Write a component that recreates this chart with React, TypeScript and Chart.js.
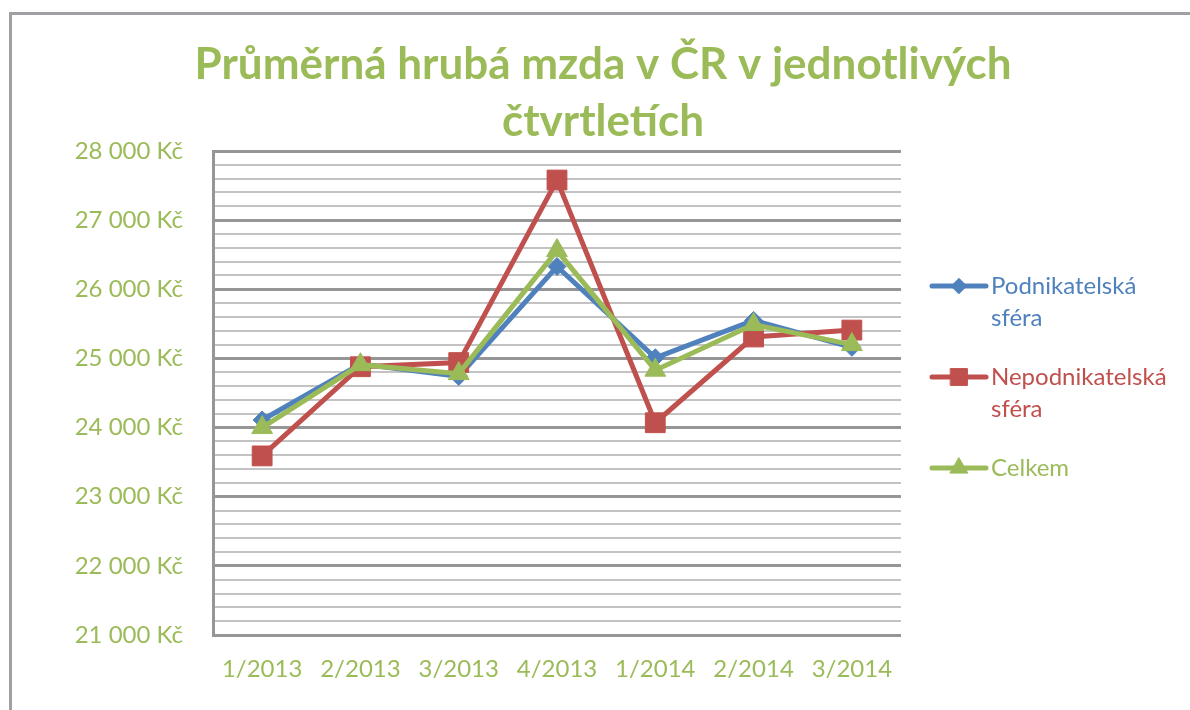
import React, { useEffect, useRef } from 'react';
import { Chart, registerables } from 'chart.js';
import { drawPoint } from 'chart.js/helpers';

Chart.register(...registerables);

const categories = ['1/2013', '2/2013', '3/2013', '4/2013', '1/2014', '2/2014', '3/2014'];
const seriesNames = ['Podnikatelská sféra', 'Nepodnikatelská sféra', 'Celkem'];
const podnikatelska = [24110, 24920, 24740, 26330, 25010, 25550, 25160];
const nepodnikatelska = [23590, 24880, 24940, 27580, 24070, 25310, 25410];
const celkem = [24000, 24910, 24780, 26560, 24830, 25490, 25200];
const titleLines = ['Průměrná hrubá mzda v ČR v jednotlivých', 'čtvrtletích'];
const yMin = 21000;
const yMax = 28000;
const yMajorStep = 1000;
const yMinorStep = 200;
const currency = 'Kč';

const BLUE = '#4F81BD';
const RED = '#C0504D';
const GREEN = '#9BBB59';
const FONT = 'Lato, "Open Sans", sans-serif';

const formatKc = (v: number) => {
  const s = Math.round(v).toString();
  const th = s.slice(0, s.length - 3);
  const rest = s.slice(s.length - 3);
  return `${th}\u00a0${rest} ${currency}`;
};

const titlePlugin = {
  id: 'customTitle',
  afterDraw(chart: any) {
    const ctx = chart.ctx;
    ctx.save();
    ctx.font = `bold 44px ${FONT}`;
    ctx.fillStyle = GREEN;
    ctx.textAlign = 'center';
    ctx.textBaseline = 'middle';
    titleLines.forEach((line, i) => {
      ctx.fillText(line, 603, 65 + i * 57);
    });
    ctx.restore();
  },
};

const legendPlugin = {
  id: 'customLegend',
  afterDraw(chart: any) {
    const ctx = chart.ctx;
    ctx.save();
    let y = 286;
    chart.data.datasets.forEach((ds: any) => {
      const color = ds.borderColor;
      ctx.strokeStyle = color;
      ctx.lineWidth = 5;
      ctx.lineCap = 'round';
      ctx.beginPath();
      ctx.moveTo(932, y);
      ctx.lineTo(986, y);
      ctx.stroke();
      ctx.fillStyle = color;
      ctx.lineWidth = 1;
      drawPoint(ctx, { pointStyle: ds.pointStyle, radius: ds.pointRadius * 0.85, rotation: 0, borderWidth: 1 } as any, 959, y);
      const lines = String(ds.label).split(' ');
      ctx.font = `24px ${FONT}`;
      ctx.textAlign = 'left';
      ctx.textBaseline = 'middle';
      lines.forEach((l, j) => ctx.fillText(l, 991, y + j * 32));
      y += lines.length * 32 + 27;
    });
    ctx.restore();
  },
};

export default function App() {
  const ref = useRef<HTMLCanvasElement | null>(null);
  useEffect(() => {
    if (!ref.current) return;
    const chart = new Chart(ref.current, {
      type: 'line',
      data: {
        labels: categories,
        datasets: [
          {
            label: seriesNames[0],
            data: podnikatelska,
            borderColor: BLUE,
            backgroundColor: BLUE,
            borderWidth: 5,
            pointStyle: 'rectRot',
            pointRadius: 9,
            pointBorderWidth: 1,
            tension: 0,
            order: 2,
          },
          {
            label: seriesNames[1],
            data: nepodnikatelska,
            borderColor: RED,
            backgroundColor: RED,
            borderWidth: 5,
            pointStyle: 'rect',
            pointRadius: 14,
            pointBorderWidth: 1,
            tension: 0,
            order: 1,
          },
          {
            label: seriesNames[2],
            data: celkem,
            borderColor: GREEN,
            backgroundColor: GREEN,
            borderWidth: 5,
            pointStyle: 'triangle',
            pointRadius: 12,
            pointBorderWidth: 1,
            tension: 0,
            order: 0,
          },
        ],
      },
      options: {
        responsive: false,
        animation: false,
        layout: { padding: { top: 151, right: 289, bottom: 0, left: 0 } },
        plugins: {
          legend: { display: false },
          title: { display: false },
          tooltip: { enabled: false },
        },
        scales: {
          x: {
            offset: true,
            grid: { display: false, drawTicks: false },
            border: { display: false },
            ticks: {
              color: GREEN,
              font: { family: FONT, size: 24 },
              padding: 20,
              maxRotation: 0,
              autoSkip: false,
            },
            afterFit: (scale: any) => {
              scale.height = 75;
            },
          },
          y: {
            min: yMin,
            max: yMax,
            grid: {
              drawTicks: false,
              color: (c: any) => (c.tick && c.tick.value % yMajorStep === 0 ? '#969696' : '#c3c3c3'),
              lineWidth: (c: any) => (c.tick && c.tick.value % yMajorStep === 0 ? 3 : 2),
            },
            border: { display: true, color: '#969696', width: 3 },
            ticks: {
              stepSize: yMinorStep,
              autoSkip: false,
              color: GREEN,
              font: { family: FONT, size: 24 },
              padding: 30,
              callback: (v: any) => (Number(v) % yMajorStep === 0 ? formatKc(Number(v)) : ''),
            },
            afterFit: (scale: any) => {
              scale.width = 213;
            },
          },
        },
      },
      plugins: [titlePlugin, legendPlugin],
    });
    return () => chart.destroy();
  }, []);

  return (
    <div style={{ position: 'fixed', left: 0, top: 0, width: 1190, height: 710, background: '#fff', overflow: 'hidden' }}>
      <div
        style={{
          position: 'absolute',
          left: 9,
          top: 12,
          width: 1300,
          height: 800,
          borderLeft: '3px solid #a0a0a4',
          borderTop: '3px solid #a0a0a4',
        }}
      />
      <canvas ref={ref} width={1190} height={710} style={{ position: 'absolute', left: 0, top: 0, width: 1190, height: 710 }} />
    </div>
  );
}
